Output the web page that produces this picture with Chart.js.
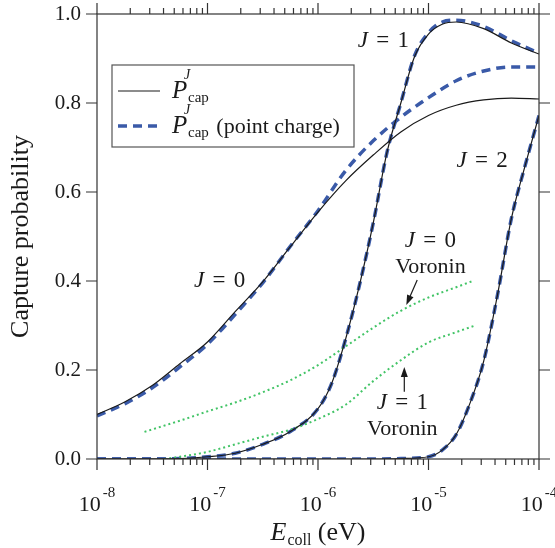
<!DOCTYPE html>
<html>
<head>
<meta charset="utf-8">
<script src="https://cdn.jsdelivr.net/npm/chart.js@4.4.1/dist/chart.umd.min.js"></script>
<style>
  html, body { margin: 0; padding: 0; background: #fff; }
  #chart { display: block; }
</style>
</head>
<body>
<canvas id="chart" width="555" height="548"></canvas>
<script>
// ── Daten ─────────────────────────────────────────────────────────────────────

// J = 0: gemeinsames Energie-Raster (eV)
const j0Energy  = [1e-8, 1.78e-8, 3.16e-8, 5.62e-8, 1e-7, 1.78e-7, 3.16e-7, 5.62e-7, 1e-6,
                   1.78e-6, 3.16e-6, 5.62e-6, 1e-5, 1.78e-5, 3.16e-5, 5.62e-5, 1e-4];
const j0Cap     = [0.100, 0.128, 0.165, 0.214, 0.263, 0.331, 0.398, 0.477, 0.555,
                   0.625, 0.683, 0.735, 0.772, 0.795, 0.807, 0.811, 0.809];
const j0Point   = [0.097, 0.124, 0.160, 0.207, 0.258, 0.325, 0.396, 0.478, 0.558,
                   0.648, 0.715, 0.768, 0.812, 0.850, 0.872, 0.881, 0.881];

// J = 1
const j1Energy  = [1e-8, 3.16e-8, 5.62e-8, 1e-7, 1.78e-7, 3.16e-7, 5.62e-7, 1e-6, 1.33e-6, 1.78e-6,
                   2.37e-6, 3.16e-6, 4.22e-6, 5.62e-6, 7.5e-6, 1e-5, 1.33e-5, 1.78e-5, 3.16e-5, 5.62e-5, 1e-4];
const j1Cap     = [0, 0, 0.001, 0.005, 0.013, 0.033, 0.062, 0.113, 0.17, 0.27,
                   0.39, 0.53, 0.69, 0.80, 0.905, 0.955, 0.977, 0.982, 0.967, 0.935, 0.910];
const j1Point   = [0, 0, 0.001, 0.005, 0.013, 0.033, 0.062, 0.113, 0.17, 0.27,
                   0.39, 0.53, 0.69, 0.80, 0.907, 0.958, 0.982, 0.986, 0.972, 0.940, 0.912];

// J = 2
const j2Energy  = [1e-8, 1e-6, 3.16e-6, 5.62e-6, 1e-5, 1.33e-5, 1.78e-5, 2.37e-5, 3.16e-5,
                   4.22e-5, 5.62e-5, 7.5e-5, 1e-4];
const j2Cap     = [0, 0, 0, 0.001, 0.005, 0.02, 0.055, 0.125, 0.22, 0.37, 0.54, 0.66, 0.772];
const j2Point   = [0, 0, 0, 0.001, 0.005, 0.02, 0.055, 0.125, 0.22, 0.37, 0.54, 0.66, 0.772];

// Voronin
const v0Energy  = [2.69e-8, 5.62e-8, 1e-7, 1.78e-7, 3.16e-7, 5.62e-7, 1e-6, 1.78e-6, 3.16e-6,
                   5.62e-6, 1e-5, 1.78e-5, 2.57e-5];
const v0Cap     = [0.061, 0.086, 0.107, 0.127, 0.150, 0.177, 0.211, 0.253, 0.295,
                   0.333, 0.363, 0.386, 0.401];
const v1Energy  = [4.07e-8, 5.62e-8, 1e-7, 1.78e-7, 3.16e-7, 5.62e-7, 1e-6, 1.78e-6, 3.16e-6,
                   5.62e-6, 1e-5, 1.78e-5, 2.57e-5];
const v1Cap     = [0, 0.005, 0.016, 0.033, 0.050, 0.066, 0.090, 0.122, 0.175,
                   0.222, 0.262, 0.285, 0.299];

// Achsen
const xDecades  = [-8, -7, -6, -5, -4];
const yTicks    = [0, 0.2, 0.4, 0.6, 0.8, 1.0];

// Beschriftungen im Diagramm (Datenkoordinaten)
const notes = [
  { e: 3.9e-6,  p: 0.926, j: '1' },
  { e: 3.05e-5, p: 0.656, j: '2' },
  { e: 1.29e-7, p: 0.387, j: '0' },
  { e: 1.04e-5, p: 0.476, j: '0', sub: 'Voronin', subP: 0.418, from: [7.9e-6, 0.402], to: [6.3e-6, 0.346] },
  { e: 5.8e-6,  p: 0.112, j: '1', sub: 'Voronin', subP: 0.054, from: [6.04e-6, 0.151], to: [6.04e-6, 0.207] },
];

// ── Stile ─────────────────────────────────────────────────────────────────────

const SERIF = '"Liberation Serif", "DejaVu Serif", serif';
const INK   = '#1a1a1a';
const BLUE  = '#3a5aa8';
const GREEN = '#42c466';

const pts = (xs, ys) => xs.map((x, i) => ({ x, y: ys[i] }));

const solid  = { borderColor: INK,   borderWidth: 1.2, pointRadius: 0, fill: false, cubicInterpolationMode: 'monotone' };
const dashed = { borderColor: BLUE,  borderWidth: 3.5, borderDash: [9, 6], pointRadius: 0, fill: false, cubicInterpolationMode: 'monotone' };
const dotted = { borderColor: GREEN, borderWidth: 2,   borderDash: [2, 3], pointRadius: 0, fill: false, cubicInterpolationMode: 'monotone' };

// ── Plugin: Rahmen, Ticks, Legende, Anmerkungen ───────────────────────────────

function drawJ(ctx, label, cx, baseline, size) {
  ctx.font = `italic ${size}px ${SERIF}`;
  const wJ = ctx.measureText('J').width;
  ctx.font = `${size}px ${SERIF}`;
  const wEq = ctx.measureText('=').width;
  const wN  = ctx.measureText(label).width;
  const gap = size * 0.36;
  let x = cx - (wJ + gap + wEq + gap + wN) / 2;
  ctx.textAlign = 'left';
  ctx.font = `italic ${size}px ${SERIF}`;
  ctx.fillText('J', x, baseline); x += wJ + gap;
  ctx.font = `${size}px ${SERIF}`;
  ctx.fillText('=', x, baseline); x += wEq + gap;
  ctx.fillText(label, x, baseline);
}

function drawPcap(ctx, x, baseline) {
  ctx.textAlign = 'left';
  ctx.font = `italic 25px ${SERIF}`;
  ctx.fillText('P', x, baseline);
  ctx.font = `italic 14px ${SERIF}`;
  ctx.fillText('J', x + 12, baseline - 19);
  ctx.font = `15px ${SERIF}`;
  ctx.fillText('cap', x + 16, baseline + 4);
  return x + 16 + ctx.measureText('cap').width;
}

const decorations = {
  id: 'decorations',
  afterDatasetsDraw(chart) {
    const { ctx, chartArea: a, scales: { x, y } } = chart;
    ctx.save();
    ctx.fillStyle = INK;
    ctx.strokeStyle = '#333';
    ctx.lineWidth = 1.2;
    ctx.setLineDash([]);

    // Rahmen
    ctx.strokeRect(a.left, a.top, a.right - a.left, a.bottom - a.top);

    // X-Ticks (oben und unten, nach außen)
    ctx.beginPath();
    xDecades.forEach((d, i) => {
      const px = x.getPixelForValue(Math.pow(10, d));
      ctx.moveTo(px, a.bottom); ctx.lineTo(px, a.bottom + 11);
      ctx.moveTo(px, a.top);    ctx.lineTo(px, a.top - 11);
      if (i === xDecades.length - 1) return;
      for (let m = 2; m <= 9; m++) {
        const mx = x.getPixelForValue(m * Math.pow(10, d));
        ctx.moveTo(mx, a.bottom); ctx.lineTo(mx, a.bottom + 6);
        ctx.moveTo(mx, a.top);    ctx.lineTo(mx, a.top - 6);
      }
    });
    // Y-Ticks (links und rechts)
    yTicks.forEach(v => {
      const py = y.getPixelForValue(v);
      ctx.moveTo(a.left, py);  ctx.lineTo(a.left - 11, py);
      ctx.moveTo(a.right, py); ctx.lineTo(a.right + 11, py);
    });
    ctx.stroke();

    // X-Tick-Beschriftungen 10^d
    xDecades.forEach(d => {
      const px = x.getPixelForValue(Math.pow(10, d));
      ctx.font = `22px ${SERIF}`;
      const wBase = ctx.measureText('10').width;
      ctx.font = `15px ${SERIF}`;
      const wExp = ctx.measureText(String(d)).width;
      const x0 = px - (wBase + 2 + wExp) / 2;
      ctx.textAlign = 'left';
      ctx.font = `22px ${SERIF}`;
      ctx.fillText('10', x0, 511);
      ctx.font = `15px ${SERIF}`;
      ctx.fillText(String(d), x0 + wBase + 2, 497);
    });

    // X-Achsentitel
    ctx.font = `italic 26px ${SERIF}`;
    const wE = ctx.measureText('E').width;
    ctx.font = `16px ${SERIF}`;
    const wColl = ctx.measureText('coll').width;
    ctx.font = `26px ${SERIF}`;
    const wUnit = ctx.measureText(' (eV)').width;
    let tx = (a.left + a.right) / 2 - (wE + 1 + wColl + wUnit) / 2;
    ctx.textAlign = 'left';
    ctx.font = `italic 26px ${SERIF}`;
    ctx.fillText('E', tx, 540); tx += wE + 1;
    ctx.font = `16px ${SERIF}`;
    ctx.fillText('coll', tx, 545); tx += wColl;
    ctx.font = `26px ${SERIF}`;
    ctx.fillText(' (eV)', tx, 540);

    // Legende
    ctx.fillStyle = '#fff';
    ctx.fillRect(112, 65, 242, 82);
    ctx.strokeStyle = '#555';
    ctx.lineWidth = 1.2;
    ctx.strokeRect(112, 65, 242, 82);
    ctx.strokeStyle = INK;
    ctx.beginPath(); ctx.moveTo(118, 91); ctx.lineTo(160, 91); ctx.stroke();
    ctx.strokeStyle = BLUE;
    ctx.lineWidth = 3.5;
    ctx.setLineDash([9, 6]);
    ctx.beginPath(); ctx.moveTo(118, 126); ctx.lineTo(162, 126); ctx.stroke();
    ctx.setLineDash([]);
    ctx.fillStyle = INK;
    drawPcap(ctx, 172, 98);
    const end = drawPcap(ctx, 172, 133);
    ctx.font = `22px ${SERIF}`;
    ctx.fillText(' (point charge)', end + 2, 133);

    // Anmerkungen
    notes.forEach(n => {
      const cx = x.getPixelForValue(n.e);
      drawJ(ctx, n.j, cx, y.getPixelForValue(n.p), 23);
      if (n.sub) {
        ctx.font = `22px ${SERIF}`;
        ctx.textAlign = 'center';
        ctx.fillText(n.sub, cx, y.getPixelForValue(n.subP));
      }
      if (n.from) {
        const x1 = x.getPixelForValue(n.from[0]), y1 = y.getPixelForValue(n.from[1]);
        const x2 = x.getPixelForValue(n.to[0]),   y2 = y.getPixelForValue(n.to[1]);
        const ang = Math.atan2(y2 - y1, x2 - x1);
        ctx.strokeStyle = INK;
        ctx.lineWidth = 1.2;
        ctx.beginPath(); ctx.moveTo(x1, y1);
        ctx.lineTo(x2 - 6 * Math.cos(ang), y2 - 6 * Math.sin(ang)); ctx.stroke();
        ctx.beginPath();
        ctx.moveTo(x2, y2);
        ctx.lineTo(x2 - 10 * Math.cos(ang) + 3.5 * Math.sin(ang), y2 - 10 * Math.sin(ang) - 3.5 * Math.cos(ang));
        ctx.lineTo(x2 - 10 * Math.cos(ang) - 3.5 * Math.sin(ang), y2 - 10 * Math.sin(ang) + 3.5 * Math.cos(ang));
        ctx.closePath(); ctx.fill();
      }
    });
    ctx.restore();
  },
};

// ── Diagramm ──────────────────────────────────────────────────────────────────

new Chart(document.getElementById('chart').getContext('2d'), {
  type: 'line',
  data: {
    datasets: [
      { ...solid,  data: pts(j0Energy, j0Cap) },
      { ...solid,  data: pts(j1Energy, j1Cap) },
      { ...solid,  data: pts(j2Energy, j2Cap) },
      { ...dotted, data: pts(v0Energy, v0Cap) },
      { ...dotted, data: pts(v1Energy, v1Cap) },
      { ...dashed, data: pts(j0Energy, j0Point) },
      { ...dashed, data: pts(j1Energy, j1Point) },
      { ...dashed, data: pts(j2Energy, j2Point) },
    ],
  },
  options: {
    responsive: false, animation: false,
    layout: { padding: { top: 0, right: 16, bottom: 89, left: 0 } },
    plugins: { legend: { display: false }, tooltip: { enabled: false } },
    scales: {
      x: { type: 'logarithmic', min: 1e-8, max: 1e-4, display: false },
      y: {
        min: 0, max: 1,
        grid: { display: false, drawTicks: false },
        border: { display: false },
        ticks: {
          stepSize: 0.2, padding: 16, color: INK,
          font: { family: SERIF, size: 21 },
          callback: v => v.toFixed(1),
        },
        title: {
          display: true, text: 'Capture probability', color: INK,
          font: { family: SERIF, size: 26 }, padding: { top: 6, bottom: 0 },
        },
        afterFit: scale => {
          scale.width = 97;
          scale.paddingTop = 14;
          scale.paddingBottom = 0;
        },
      },
    },
  },
  plugins: [decorations],
});
</script>
</body>
</html>
